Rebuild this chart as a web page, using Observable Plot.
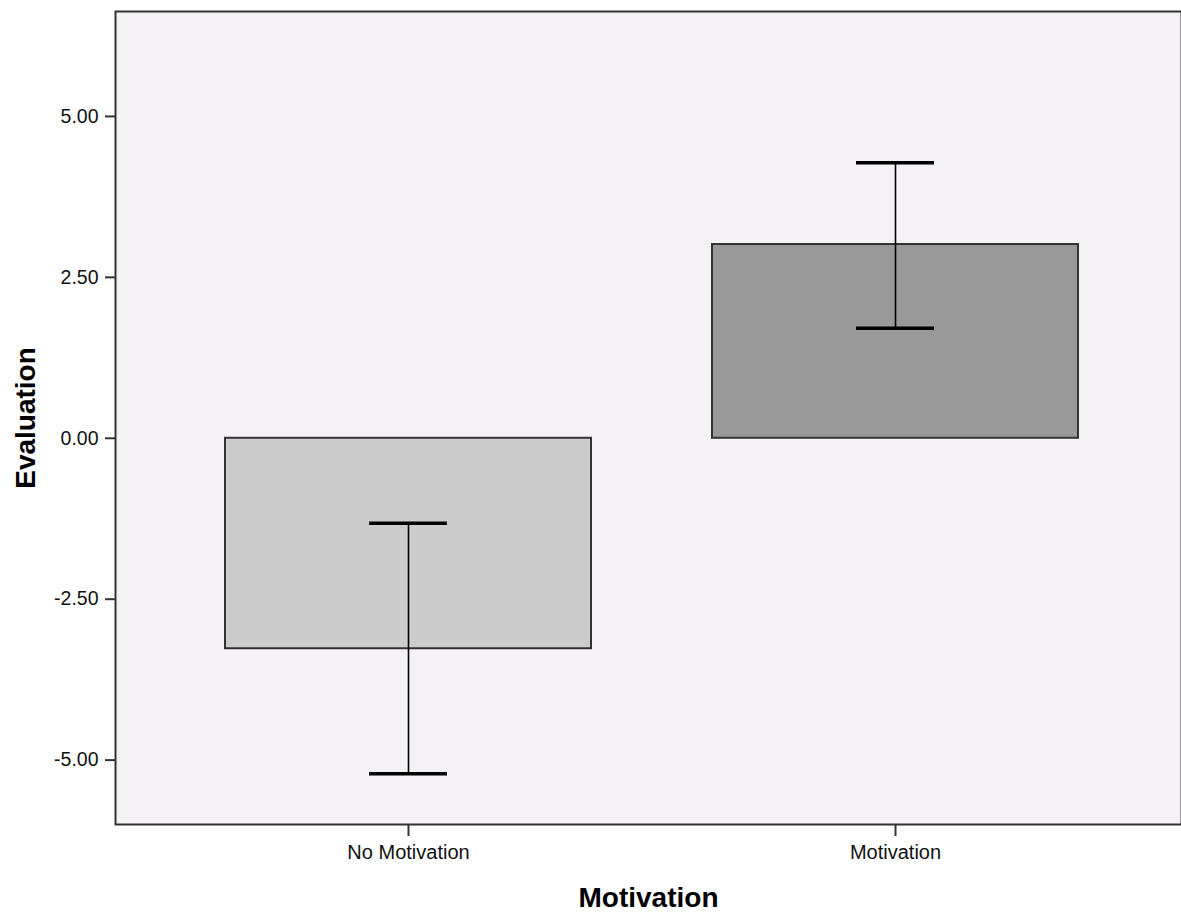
<!DOCTYPE html>
<html>
<head>
<meta charset="utf-8">
<script src="https://cdn.jsdelivr.net/npm/d3@7"></script>
<script src="https://cdn.jsdelivr.net/npm/@observablehq/plot@0.6"></script>
<style>
  html, body { margin: 0; padding: 0; background: #ffffff; overflow: hidden; }
  #chart svg { overflow: hidden; }
  g[aria-label="y-axis label"] text, g[aria-label="x-axis label"] text {
    font-size: 28px; font-weight: bold; fill: #000;
  }
  g[aria-label="y-axis tick label"] text { font-size: 19.5px; fill: #111; }
  g[aria-label="x-axis tick label"] text { font-size: 20px; fill: #111; }
</style>
</head>
<body>
<div id="chart"></div>
<script>
const categories = ["No Motivation", "Motivation"];
const means = [-3.27, 3.01];
const ciLow = [-5.21, 1.71];
const ciHigh = [-1.32, 4.28];
const fills = ["#cccccc", "#999999"];
const yTicks = [-5, -2.5, 0, 2.5, 5];

const data = categories.map((c, i) => ({cat: c, mean: means[i], lo: ciLow[i], hi: ciHigh[i], fill: fills[i]}));
const fmt = (d) => d.toFixed(2);

const chart = Plot.plot({
  width: 1181,
  height: 914,
  marginLeft: 115,
  marginRight: 0,
  marginTop: 11,
  marginBottom: 90,
  style: {fontFamily: "Arial, 'Liberation Sans', sans-serif", background: "#ffffff", color: "#000"},
  x: {domain: categories, range: [115, 1189], paddingInner: 0.248, paddingOuter: 0.225, align: 0.5, label: "Motivation"},
  y: {domain: [-6, 6.63], label: "Evaluation"},
  marks: [
    Plot.frame({fill: "#f5f2f5", stroke: null}),
    Plot.barY(data, {x: "cat", y1: 0, y2: "mean", fill: "fill", stroke: "#333333", strokeWidth: 2}),
    Plot.ruleX(data, {x: "cat", y1: "lo", y2: "hi", stroke: "#000", strokeWidth: 1.6}),
    Plot.tickY(data, {x: "cat", y: "lo", stroke: "#000", strokeWidth: 3.5, insetLeft: 144, insetRight: 144}),
    Plot.tickY(data, {x: "cat", y: "hi", stroke: "#000", strokeWidth: 3.5, insetLeft: 144, insetRight: 144}),
    Plot.frame({stroke: "#333333", strokeWidth: 2}),
    Plot.axisY({ticks: yTicks, tickFormat: fmt, tickSize: 10, tickPadding: 7, fontSize: 19.5, stroke: "#333", strokeWidth: 2, label: "Evaluation", labelAnchor: "center", labelArrow: "none", labelOffset: 100}),
    Plot.axisX({tickSize: 12, tickPadding: 8, fontSize: 20, stroke: "#333", strokeWidth: 2, label: "Motivation", labelAnchor: "center", labelArrow: "none", labelOffset: 82})
  ]
});
document.getElementById("chart").appendChild(chart);
</script>
</body>
</html>
